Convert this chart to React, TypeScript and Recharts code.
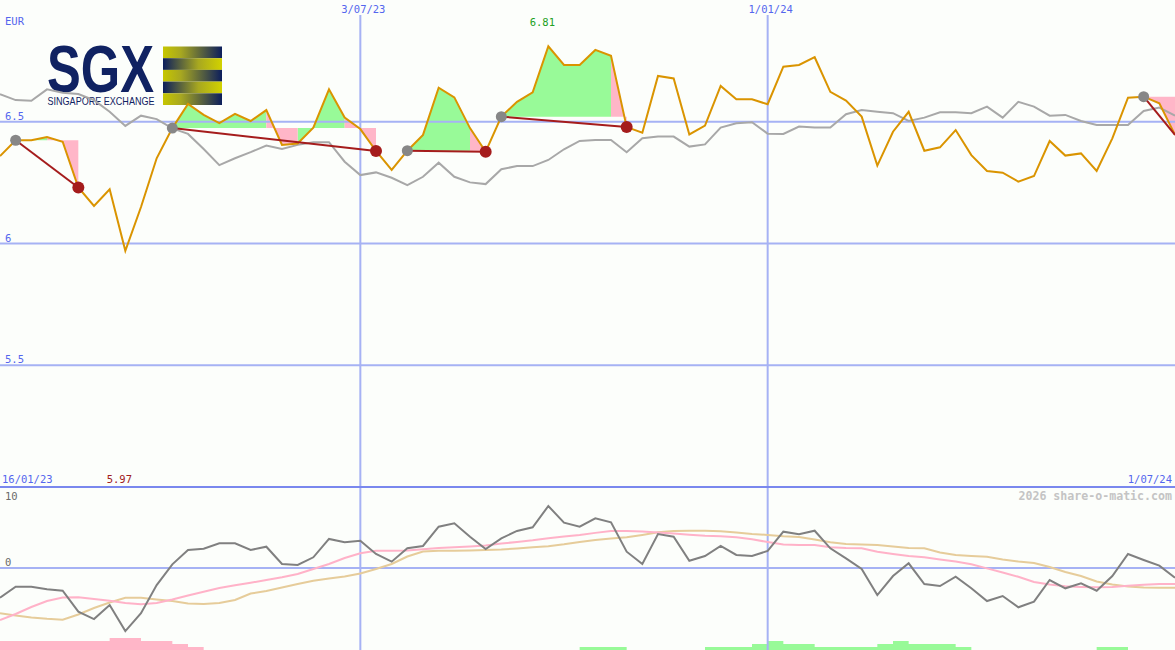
import React from 'react';
import { ComposedChart, Line, Area, XAxis, YAxis, ReferenceLine, ReferenceDot } from 'recharts';

// ---------- data ----------
const dates = [
  '23/01/23', '30/01/23', '6/02/23', '13/02/23', '20/02/23', '27/02/23', '6/03/23', '13/03/23', '20/03/23', '27/03/23',
  '3/04/23', '10/04/23', '17/04/23', '24/04/23', '1/05/23', '8/05/23', '15/05/23', '22/05/23', '29/05/23', '5/06/23',
  '12/06/23', '19/06/23', '26/06/23', '3/07/23', '10/07/23', '17/07/23', '24/07/23', '31/07/23', '7/08/23', '14/08/23',
  '21/08/23', '28/08/23', '4/09/23', '11/09/23', '18/09/23', '25/09/23', '2/10/23', '9/10/23', '16/10/23', '23/10/23',
  '30/10/23', '6/11/23', '13/11/23', '20/11/23', '27/11/23', '4/12/23', '11/12/23', '18/12/23', '25/12/23', '1/01/24',
  '8/01/24', '15/01/24', '22/01/24', '29/01/24', '5/02/24', '12/02/24', '19/02/24', '26/02/24', '4/03/24', '11/03/24',
  '18/03/24', '25/03/24', '1/04/24', '8/04/24', '15/04/24', '22/04/24', '29/04/24', '6/05/24', '13/05/24', '20/05/24',
  '27/05/24', '3/06/24', '10/06/24', '17/06/24', '24/06/24', '1/07/24',
];

const gridDates = ['3/07/23', '1/01/24'];
const priceTicks = [5.5, 6, 6.5];
const oscTicks = [-10, 0, 10];

const price = [
  6.359, 6.424, 6.424, 6.437, 6.418, 6.23, 6.154, 6.223, 5.97, 6.15,
  6.35, 6.474, 6.573, 6.528, 6.494, 6.532, 6.503, 6.548, 6.405, 6.411,
  6.476, 6.633, 6.517, 6.47, 6.38, 6.302, 6.381, 6.446, 6.64, 6.6,
  6.474, 6.377, 6.521, 6.582, 6.621, 6.81, 6.733, 6.733, 6.795, 6.771,
  6.478, 6.455, 6.688, 6.678, 6.448, 6.484, 6.647, 6.592, 6.592, 6.572,
  6.726, 6.733, 6.765, 6.623, 6.587, 6.521, 6.32, 6.459, 6.541, 6.381,
  6.395, 6.466, 6.363, 6.298, 6.291, 6.254, 6.277, 6.421, 6.361, 6.37,
  6.298, 6.432, 6.599, 6.603, 6.576, 6.446,
];

const average = [
  6.613, 6.589, 6.586, 6.633, 6.619, 6.614, 6.589, 6.541, 6.483, 6.525,
  6.511, 6.473, 6.45, 6.388, 6.322, 6.35, 6.375, 6.402, 6.388, 6.405,
  6.416, 6.416, 6.336, 6.281, 6.292, 6.27, 6.24, 6.274, 6.332, 6.274,
  6.251, 6.244, 6.305, 6.318, 6.318, 6.343, 6.387, 6.421, 6.425, 6.425,
  6.375, 6.432, 6.439, 6.439, 6.398, 6.407, 6.476, 6.494, 6.498, 6.451,
  6.45, 6.48, 6.476, 6.476, 6.531, 6.548, 6.541, 6.535, 6.503, 6.517,
  6.539, 6.539, 6.535, 6.562, 6.517, 6.582, 6.562, 6.525, 6.528, 6.503,
  6.487, 6.487, 6.487, 6.544, 6.558, 6.525,
];

const oscillator = [
  -3.71, -2.34, -2.34, -2.66, -2.84, -5.46, -6.38, -4.63, -7.88, -5.66,
  -2.13, 0.46, 2.25, 2.41, 3.09, 3.09, 2.25, 2.66, 0.5, 0.38,
  1.34, 3.63, 3.21, 3.41, 1.75, 0.79, 2.46, 2.75, 5.16, 5.59,
  3.91, 2.38, 3.71, 4.63, 5.09, 7.75, 5.66, 5.16, 6.21, 5.71,
  2.04, 0.5, 4.25, 3.91, 0.91, 1.5, 2.75, 1.63, 1.5, 2.13,
  4.54, 4.21, 4.66, 2.46, 1.21, -0.13, -3.38, -1.0, 0.59, -2.0,
  -2.25, -1.09, -2.54, -4.13, -3.5, -4.91, -4.21, -1.5, -2.54, -1.91,
  -2.84, -1.0, 1.75, 1.0, 0.29, -1.21,
];

const signalFast = [
  -6.5, -5.75, -4.88, -4.13, -3.69, -3.66, -3.88, -4.09, -4.38, -4.54,
  -4.38, -3.94, -3.44, -2.96, -2.5, -2.16, -1.84, -1.5, -1.16, -0.75,
  -0.13, 0.5, 1.25, 1.84, 2.16, 2.16, 2.19, 2.34, 2.5, 2.59,
  2.69, 2.81, 3.06, 3.25, 3.46, 3.73, 3.93, 4.13, 4.39, 4.63,
  4.63, 4.56, 4.45, 4.31, 4.15, 4.03, 3.96, 3.84, 3.59, 3.25,
  2.94, 2.88, 2.88, 2.59, 2.5, 2.46, 2.04, 1.75, 1.5, 1.34,
  1.06, 0.81, 0.46, -0.05, -0.56, -1.1, -1.75, -2.06, -2.28, -2.36,
  -2.41, -2.38, -2.23, -2.08, -2.0, -2.0,
];

const signalSlow = [
  -5.66, -5.94, -6.19, -6.35, -6.46, -5.81, -5.0, -4.31, -3.71, -3.71,
  -3.94, -4.13, -4.44, -4.5, -4.38, -4.0, -3.19, -2.88, -2.44, -2.0,
  -1.6, -1.31, -1.06, -0.69, -0.13, 0.5, 1.44, 2.06, 2.15, 2.16,
  2.19, 2.25, 2.31, 2.44, 2.6, 2.73, 2.96, 3.25, 3.5, 3.68,
  3.84, 4.13, 4.46, 4.63, 4.66, 4.66, 4.59, 4.44, 4.25, 4.13,
  3.98, 3.88, 3.56, 3.21, 3.0, 2.94, 2.88, 2.69, 2.5, 2.46,
  1.94, 1.63, 1.5, 1.41, 1.06, 0.81, 0.63, 0.13, -0.5, -1.0,
  -1.69, -2.06, -2.31, -2.44, -2.46, -2.46,
];

const sellStrength = [
  3, 3, 3, 3, 3, 3, 3, 4, 4, 3, 3, 2, 1, 0, 0, 0, 0, 0, 0, 0,
  0, 0, 0, 0, 0, 0, 0, 0, 0, 0, 0, 0, 0, 0, 0, 0, 0, 0, 0, 0,
  0, 0, 0, 0, 0, 0, 0, 0, 0, 0, 0, 0, 0, 0, 0, 0, 0, 0, 0, 0,
  0, 0, 0, 0, 0, 0, 0, 0, 0, 0, 0, 0, 0, 0, 0, 0,
];

const buyStrength = [
  0, 0, 0, 0, 0, 0, 0, 0, 0, 0, 0, 0, 0, 0, 0, 0, 0, 0, 0, 0,
  0, 0, 0, 0, 0, 0, 0, 0, 0, 0, 0, 0, 0, 0, 0, 0, 0, 1, 1, 1,
  0, 0, 0, 0, 0, 1, 1, 1, 2, 3, 2, 2, 1, 1, 1, 1, 2, 3, 2, 2,
  2, 1, 0, 0, 0, 0, 0, 0, 0, 0, 1, 1, 0, 0, 0, 0,
];

const tradeEntry = [1, 11, 26, 32, 73];
const tradeExit = [5, 24, 31, 40, 75];
const exitMarked = [true, true, true, true, false];

// ---------- styles ----------
const W = 1175;
const MAIN_H = 487;
const LOW_H = 163;
const MONO = '"DejaVu Sans Mono", monospace';
const SANS = '"Liberation Sans", Arial, sans-serif';
const BG = '#fcfefb';
const GRID = '#a6b2f4';
const BLUE_TEXT = '#5466ee';
const ORANGE = '#da9400';
const GRAY = '#a8a8a8';
const GREEN_FILL = '#98fa98';
const PINK_FILL = '#ffb6c8';
const DARK_RED = '#a51c1c';
const ENTRY_GRAY = '#878787';
const NAVY = '#102262';

// ---------- table ----------
type Row = { [k: string]: any };
const rows: Row[] = dates.map((date, i) => ({
  date,
  price: price[i],
  average: average[i],
  osc: oscillator[i],
  fast: signalFast[i],
  slow: signalSlow[i],
  sell: sellStrength[i],
  buy: buyStrength[i],
}));

const runCounter: { [c: string]: number } = { g: 0, p: 0 };
tradeEntry.forEach((entry, t) => {
  const exit = tradeExit[t];
  const level = price[entry];
  rows[entry]['t' + t] = price[entry];
  rows[exit]['t' + t] = price[exit];
  let start = entry;
  let color = price[entry + 1] < level ? 'p' : 'g';
  const flush = (from: number, to: number, c: string) => {
    const key = c + (runCounter[c]++ % 2);
    for (let k = from; k <= to; k++) rows[k][key] = [level, price[k]];
  };
  for (let j = entry; j < exit; j++) {
    const c = price[j + 1] < level ? 'p' : 'g';
    if (c !== color) {
      flush(start, j, color);
      start = j;
      color = c;
    }
  }
  flush(start, exit, color);
});

const maxIdx = price.indexOf(Math.max(...price));
const minIdx = price.indexOf(Math.min(...price));

// ---------- renderers ----------
const PriceTick = (props: any) => (
  <text x={5} y={props.y - 2} fill={BLUE_TEXT} fontSize={10.5} fontFamily={MONO}>
    {props.payload.value}
  </text>
);

const OscTick = (props: any) => (
  <text x={5} y={Math.max(props.y - 2.5, 13)} fill="#6a6a6a" fontSize={10.5} fontFamily={MONO}>
    {props.payload.value}
  </text>
);

const dateLabel = (text: string) => (p: any) => (
  <g>
    <rect x={p.viewBox.x - 3} y={0} width={6} height={15} fill={BG} />
    <text x={p.viewBox.x + 3} y={12.5} textAnchor="middle" fill={BLUE_TEXT} fontSize={10.5} fontFamily={MONO}>
      {text}
    </text>
  </g>
);

const makeTradeDot = (t: number) => (props: any) => {
  const { cx, cy, index } = props;
  const key = `d${t}-${index}`;
  if (cx == null || cy == null || props.value == null) return <g key={key} />;
  if (index === tradeEntry[t]) return <circle key={key} cx={cx} cy={cy} r={5.5} fill={ENTRY_GRAY} />;
  if (index === tradeExit[t] && exitMarked[t]) return <circle key={key} cx={cx} cy={cy} r={6} fill={DARK_RED} />;
  return <g key={key} />;
};

const Logo = () => (
  <svg width={240} height={120} style={{ position: 'absolute', left: 0, top: 0 }}>
    <defs>
      <linearGradient id="yToN" x1="0" x2="1" y1="0" y2="0">
        <stop offset="0" stopColor="#c6c600" />
        <stop offset="0.3" stopColor="#a8a820" />
        <stop offset="1" stopColor="#0c1e5c" />
      </linearGradient>
      <linearGradient id="nToY" x1="0" x2="1" y1="0" y2="0">
        <stop offset="0" stopColor="#0c1e5c" />
        <stop offset="0.6" stopColor="#a8a820" />
        <stop offset="1" stopColor="#d2d200" />
      </linearGradient>
    </defs>
    <text fontFamily={SANS} fill={NAVY}>
      <tspan x={47} y={92} fontSize={66} fontWeight="bold" textLength={107} lengthAdjust="spacingAndGlyphs">SGX</tspan>
      <tspan x={47.5} y={105} fontSize={11.2} textLength={107} lengthAdjust="spacingAndGlyphs">SINGAPORE EXCHANGE</tspan>
    </text>
    <rect x={163} y={46.5} width={59} height={11.7} fill="url(#yToN)" />
    <rect x={163} y={58.2} width={59} height={11.7} fill="url(#nToY)" />
    <rect x={163} y={69.9} width={59} height={11.7} fill="url(#yToN)" />
    <rect x={163} y={81.6} width={59} height={11.7} fill="url(#nToY)" />
    <rect x={163} y={93.3} width={59} height={11.7} fill="url(#yToN)" />
  </svg>
);

export default function App() {
  return (
    <div style={{ position: 'absolute', left: 0, top: 0, width: W, height: 650, background: BG, overflow: 'hidden' }}>
      <Logo />
      <div style={{ position: 'absolute', left: 0, top: 0 }}>
        <ComposedChart width={W} height={MAIN_H} data={rows} margin={{ top: 0, right: 0, bottom: 0, left: 0 }}>
          <XAxis dataKey="date" scale="point" padding={{ left: 0, right: 0 }} hide />
          <YAxis domain={[5, 7]} ticks={priceTicks} allowDataOverflow mirror axisLine={false} tickLine={false} tick={<PriceTick />} />
          {priceTicks.map((v) => (
            <ReferenceLine key={'h' + v} y={v} stroke={GRID} strokeWidth={2} />
          ))}
          {gridDates.map((d) => (
            <ReferenceLine key={'v' + d} x={d} stroke={GRID} strokeWidth={2} label={dateLabel(d)} />
          ))}
          <Area dataKey="g0" stroke="none" fill={GREEN_FILL} fillOpacity={1} activeDot={false} isAnimationActive={false} />
          <Area dataKey="g1" stroke="none" fill={GREEN_FILL} fillOpacity={1} activeDot={false} isAnimationActive={false} />
          <Area dataKey="p0" stroke="none" fill={PINK_FILL} fillOpacity={1} activeDot={false} isAnimationActive={false} />
          <Area dataKey="p1" stroke="none" fill={PINK_FILL} fillOpacity={1} activeDot={false} isAnimationActive={false} />
          <Line dataKey="average" stroke={GRAY} strokeWidth={2} dot={false} activeDot={false} isAnimationActive={false} />
          <Line dataKey="price" stroke={ORANGE} strokeWidth={2} dot={false} activeDot={false} isAnimationActive={false} />
          {tradeEntry.map((_, t) => (
            <Line key={'t' + t} dataKey={'t' + t} stroke={DARK_RED} strokeWidth={2} connectNulls dot={makeTradeDot(t)}
              activeDot={false} isAnimationActive={false} />
          ))}
          <ReferenceDot x={dates[maxIdx]} y={price[maxIdx]} r={1} fill="none" stroke="none"
            label={(p: any) => (
              <text x={p.viewBox.x - 5} y={26} textAnchor="middle" fill="#22a022" fontSize={10.5} fontFamily={MONO}>
                {price[maxIdx].toFixed(2)}
              </text>
            )} />
          <ReferenceDot x={dates[minIdx]} y={price[minIdx]} r={1} fill="none" stroke="none"
            label={(p: any) => (
              <text x={p.viewBox.x - 5} y={483} textAnchor="middle" fill="#a02020" fontSize={10.5} fontFamily={MONO}>
                {price[minIdx].toFixed(2)}
              </text>
            )} />
        </ComposedChart>
      </div>
      <div style={{ position: 'absolute', left: 0, top: MAIN_H }}>
        <ComposedChart width={W} height={LOW_H} data={rows} margin={{ top: 0, right: 0, bottom: 0, left: 0 }}>
          <XAxis dataKey="date" scale="point" padding={{ left: 0, right: 0 }} hide />
          <YAxis yAxisId="osc" domain={[-10.25, 10.125]} ticks={oscTicks} allowDataOverflow mirror axisLine={false} tickLine={false} tick={<OscTick />} />
          <YAxis yAxisId="str" domain={[0, 54.33]} allowDataOverflow hide />
          <ReferenceLine yAxisId="osc" y={0} stroke={GRID} strokeWidth={2} />
          {gridDates.map((d) => (
            <ReferenceLine key={'lv' + d} yAxisId="osc" x={d} stroke={GRID} strokeWidth={2} />
          ))}
          <Area yAxisId="str" type="stepAfter" dataKey="sell" stroke="none" fill={PINK_FILL} fillOpacity={1} activeDot={false} isAnimationActive={false} />
          <Area yAxisId="str" type="stepAfter" dataKey="buy" stroke="none" fill={GREEN_FILL} fillOpacity={1} activeDot={false} isAnimationActive={false} />
          <Line yAxisId="osc" dataKey="slow" stroke="#e6cc9a" strokeWidth={2} dot={false} activeDot={false} isAnimationActive={false} />
          <Line yAxisId="osc" dataKey="fast" stroke="#ffb2c8" strokeWidth={2} dot={false} activeDot={false} isAnimationActive={false} />
          <Line yAxisId="osc" dataKey="osc" stroke="#808080" strokeWidth={2} dot={false} activeDot={false} isAnimationActive={false} />
        </ComposedChart>
      </div>
      <div style={{ position: 'absolute', left: 0, top: 486, width: W, height: 2, background: '#7a88ee' }} />
      <svg width={W} height={650} style={{ position: 'absolute', left: 0, top: 0, pointerEvents: 'none' }}>
        <text x={5} y={25} fill={BLUE_TEXT} fontSize={10.5} fontFamily={MONO}>EUR</text>
        <text x={2} y={483} fill={BLUE_TEXT} fontSize={10.5} fontFamily={MONO}>{'16/01/23'}</text>
        <text x={1172} y={483} textAnchor="end" fill={BLUE_TEXT} fontSize={10.5} fontFamily={MONO}>{dates[dates.length - 1]}</text>
        <text x={1172} y={500} textAnchor="end" fill="#c4c4c4" fontSize={11.6} fontWeight="bold" fontFamily={MONO}>2026 share-o-matic.com</text>
      </svg>
    </div>
  );
}
